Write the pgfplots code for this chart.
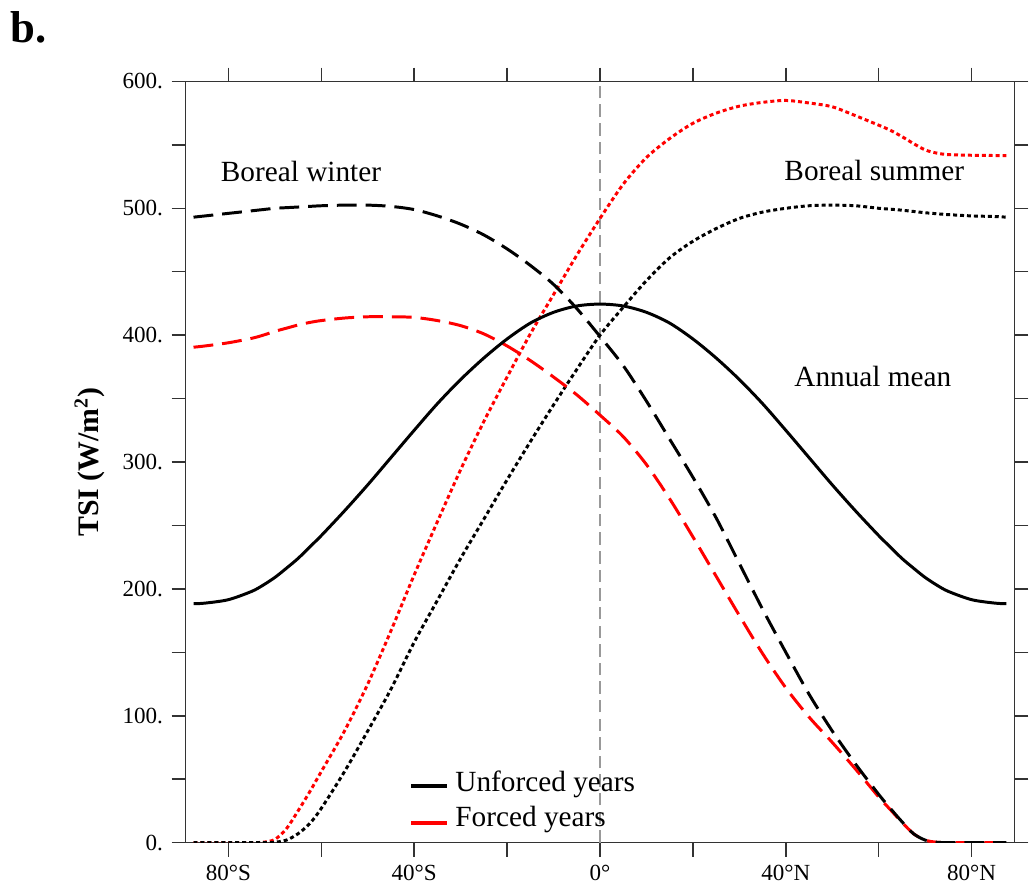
\documentclass[border=0pt]{standalone}
\usepackage{fontspec}
\setmainfont{Liberation Serif}
\usepackage{pgfplots}
\usepackage{pgfplotstable}
\pgfplotsset{compat=1.18}

% TSI by latitude: annual mean, unforced winter/summer, forced winter/summer
\pgfplotstableread{
lat    ann    uw     us     fw     fs
-87.5  188.3  493    0      390.5  0
-85    188.8  494    0      391.5  0
-80    191.5  496    0      394    0
-75    198    498    0      397.5  0
-72.5  203    499    0      400    0.3
-70    209    500    0.3    403    2.5
-67.5  216.3  500.5  2      405.5  11
-65    224    501    7      408    25
-62.5  233    501.5  15     410    40
-60    242    502    27     411.5  56
-55    261.5  502.5  56     413.5  88
-50    282    502.5  88     414.5  125
-45    303.5  501.5  121    414.5  167
-40    325    499    158    414    211
-35    346    494    191    411.5  253
-30    365    487.5  224    407.5  294
-25    382    479    255    401    332
-20    397    468    286    391.5  367
-15    409.5  455    316    380    401
-10    418    440    345    367    432
-5     423    421    373    353    463
0      424.5  399    400    337    492
5      423    376    422    320    519
10     418    348    443    298    540
15     409.5  318    461    271    555
20     397    288    474    241    567
25     382    256    484    210    575
30     365    220    492    179    580.5
35     346    184    497    149    583.5
40     325    150    500    122    585
45     303.5  117    502    99     583
50     282    88     502.5  79     580
55     261.5  62     502    58     573
60     242    38     500    36     565.5
62.5   233    27     499.3  26     561.5
65     224    16.5   498.5  16     556.5
67.5   216.3  7      497.5  7      551
70     209    2      496.5  2      546
72.5   203    0.3    495.7  0.3    543.5
75     198    0      495    0      542.3
80     191.5  0      494    0      541.8
85     188.8  0      493.5  0      541.6
87.5   188.3  0      493    0      541.5
}\tsi

\begin{document}
\begin{tikzpicture}
\begin{axis}[
    scale only axis,
    width=334pt, height=306.8pt,
    xmin=-89.2, xmax=89.2,
    ymin=0, ymax=600,
    xtick={-80,-60,...,80},
    xticklabels={80°S,,40°S,,0°,,40°N,,80°N},
    ytick={0,50,...,600},
    yticklabels={0.,,100.,,200.,,300.,,400.,,500.,,600.},
    tick align=outside,
    major tick length=5.6pt,
    axis line style={line width=0.6pt, black!80},
    every tick/.style={line width=0.6pt, black!80},
    tick label style={font=\fontsize{9.3}{11}\selectfont},
    ylabel={\textbf{TSI (W/m\textsuperscript{2})}},
    ylabel style={font=\fontsize{12}{14}\selectfont,
        at={(axis description cs:-0.116,0.5)}, anchor=center},
    clip mode=individual,
]
\addplot[gray!80, line width=0.5pt, dash pattern=on 5pt off 2.5pt]
    coordinates {(0,0) (0,600)};

\addplot[red, line width=1.2pt, dash pattern=on 1.6pt off 1.2pt, smooth]
    table[x=lat, y=fs] {\tsi};
\addplot[black, line width=1.2pt, dash pattern=on 1.6pt off 1.2pt, smooth]
    table[x=lat, y=us] {\tsi};
\addplot[red, line width=1.2pt, dash pattern=on 8pt off 3.6pt, smooth]
    table[x=lat, y=fw] {\tsi};
\addplot[black, line width=1.2pt, dash pattern=on 8pt off 3.6pt, smooth]
    table[x=lat, y=uw] {\tsi};
\addplot[black, line width=1.2pt, smooth]
    table[x=lat, y=ann] {\tsi};

% labels
\node[anchor=base west, inner sep=0pt, font=\fontsize{11.8}{14}\selectfont]
    at (axis description cs:0.042,0.868) {Boreal winter};
\node[anchor=base west, inner sep=0pt, font=\fontsize{11.8}{14}\selectfont]
    at (axis description cs:0.722,0.870) {Boreal summer};
\node[anchor=base west, inner sep=0pt, font=\fontsize{11.8}{14}\selectfont]
    at (axis description cs:0.734,0.599) {Annual mean};

% legend
\draw[black, line width=1.6pt] (axis description cs:0.272,0.0743) -- (axis description cs:0.315,0.0743);
\node[anchor=base west, inner sep=0pt, font=\fontsize{11.8}{14}\selectfont]
    at (axis description cs:0.325,0.0678) {Unforced years};
\draw[red, line width=1.6pt] (axis description cs:0.272,0.0261) -- (axis description cs:0.315,0.0261);
\node[anchor=base west, inner sep=0pt, font=\fontsize{11.8}{14}\selectfont]
    at (axis description cs:0.325,0.0209) {Forced years};

% panel letter
\node[anchor=base west, inner sep=0pt, font=\fontsize{18}{20}\selectfont\bfseries]
    at (axis description cs:-0.212,1.051) {b.};

\path (axis description cs:-0.224,-0.052) rectangle (axis description cs:1.008,1.107);
\end{axis}
\end{tikzpicture}
\end{document}
